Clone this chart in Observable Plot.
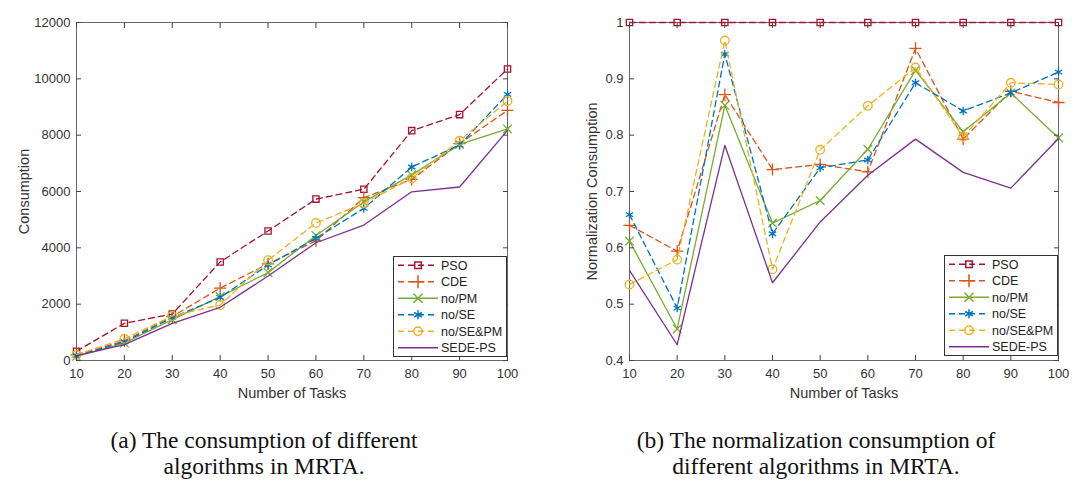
<!DOCTYPE html>
<html><head><meta charset="utf-8">
<script src="https://cdn.jsdelivr.net/npm/d3@7"></script>
<script src="https://cdn.jsdelivr.net/npm/@observablehq/plot@0.6"></script>
<style>
body{margin:0;background:#fff;}
#wrap{position:relative;width:1080px;height:487px;overflow:hidden;}
.panel{position:absolute;top:0;}
.cap{position:absolute;top:427px;text-align:center;font-family:"Liberation Serif","Times New Roman",serif;font-size:23.5px;line-height:26px;color:#111;white-space:nowrap;}
.legend{position:absolute;background:#fff;border:1px solid #333;box-sizing:border-box;}
</style></head><body>
<div id="wrap"></div>
<script>
// ---- data ----
const tasks = [10, 20, 30, 40, 50, 60, 70, 80, 90, 100];
const seriesNames = ["PSO", "CDE", "no/PM", "no/SE", "no/SE&PM", "SEDE-PS"];
const seriesColors = ["#A2142F", "#D95319", "#77AC30", "#0072BD", "#EDB120", "#7E2F8E"];
const seriesDash = ["6,4", "6,4", null, "6,4", "6,4", null];
const seriesSymbols = ["square2", "plus", "times", "asterisk", "circle", null];

// (a) consumption
const consPSO    = [330, 1320, 1650, 3500, 4600, 5730, 6080, 8160, 8730, 10350];
const consCDE    = [200, 700, 1560, 2570, 3430, 4250, 5780, 6430, 7700, 8880];
const consNoPM   = [150, 620, 1450, 2270, 3120, 4440, 5630, 6590, 7670, 8220];
const consNoSE   = [170, 660, 1520, 2240, 3390, 4340, 5400, 6870, 7650, 9450];
const consNoSEPM = [200, 770, 1580, 1970, 3560, 4880, 5580, 6470, 7800, 9210];
const consSEDE   = [170, 566, 1320, 1890, 3000, 4180, 4810, 5990, 6160, 8170];

// (b) normalization consumption
const normPSO    = [1, 1, 1, 1, 1, 1, 1, 1, 1, 1];
const normCDE    = [0.640, 0.594, 0.872, 0.739, 0.748, 0.735, 0.954, 0.793, 0.878, 0.858];
const normNoPM   = [0.612, 0.456, 0.853, 0.644, 0.684, 0.775, 0.915, 0.806, 0.875, 0.795];
const normNoSE   = [0.659, 0.493, 0.944, 0.625, 0.742, 0.756, 0.893, 0.843, 0.875, 0.912];
const normNoSEPM = [0.535, 0.579, 0.968, 0.562, 0.774, 0.852, 0.920, 0.797, 0.893, 0.890];
const normSEDE   = [0.560, 0.428, 0.782, 0.538, 0.646, 0.729, 0.793, 0.734, 0.706, 0.794];

const xTicks = [10, 20, 30, 40, 50, 60, 70, 80, 90, 100];
const yTicksA = [0, 2000, 4000, 6000, 8000, 10000, 12000];
const yTicksB = [0.4, 0.5, 0.6, 0.7, 0.8, 0.9, 1];

const captionA = ["(a) The consumption of different", "algorithms in MRTA."];
const captionB = ["(b) The normalization consumption of", "different algorithms in MRTA."];

function toRows(arrays) {
  const rows = [];
  arrays.forEach((arr, i) => arr.forEach((v, j) => rows.push({task: tasks[j], value: v, series: seriesNames[i]})));
  return rows;
}

const rowsA = toRows([consPSO, consCDE, consNoPM, consNoSE, consNoSEPM, consSEDE]);
const rowsB = toRows([normPSO, normCDE, normNoPM, normNoSE, normNoSEPM, normSEDE]);

const axisColor = "#444";
const textColor = "#333";

function makePlot(rows, yDomain, yTicks, yLabel, ml, mr, labelOffsetY) {
  const marks = [Plot.frame({stroke: "#666", strokeWidth: 1})];
  seriesNames.forEach((name, i) => {
    const d = rows.filter(r => r.series === name);
    marks.push(Plot.line(d, {x: "task", y: "value", stroke: seriesColors[i], strokeWidth: 1.3,
      strokeDasharray: seriesDash[i] || undefined}));
    if (seriesSymbols[i]) {
      marks.push(Plot.dot(d, {x: "task", y: "value", symbol: seriesSymbols[i], stroke: seriesColors[i],
        fill: "none", r: seriesSymbols[i] === "circle" ? 4.3 : 4.0, strokeWidth: 1.3}));
    }
  });
  marks.push(
    Plot.axisX({ticks: xTicks, anchor: "bottom", tickSize: -5, tickPadding: 13, stroke: axisColor, fill: textColor,
      fontSize: 13, tickFormat: d => String(d), label: null}),
    Plot.axisX({ticks: xTicks, anchor: "top", tickSize: -5, stroke: axisColor, tickFormat: () => "", label: null}),
    Plot.axisY({ticks: yTicks, anchor: "left", tickSize: -5, tickPadding: 11, stroke: axisColor, fill: textColor,
      fontSize: 13, tickFormat: d => String(d), label: null}),
    Plot.axisY({ticks: yTicks, anchor: "right", tickSize: -5, stroke: axisColor, tickFormat: () => "", label: null}),
    Plot.axisX({ticks: xTicks, anchor: "bottom", tickSize: 0, tickFormat: () => "", fill: textColor, fontSize: 14.5,
      label: "Number of Tasks", labelAnchor: "center", labelOffset: 37, labelArrow: "none"}),
    Plot.axisY({ticks: yTicks, anchor: "left", tickSize: 0, tickFormat: () => "", fill: textColor, fontSize: 14.5,
      label: yLabel, labelAnchor: "center", labelOffset: labelOffsetY, labelArrow: "none"})
  );
  return Plot.plot({
    width: 540, height: 400,
    marginLeft: ml, marginRight: mr, marginTop: 22, marginBottom: 40,
    style: {fontFamily: "'Liberation Sans', Arial, sans-serif", fontSize: "13px", color: textColor, background: "#fff"},
    x: {domain: [10, 100]},
    y: {domain: yDomain},
    marks
  });
}

function makeLegend(left, top, w, h) {
  const div = document.createElement("div");
  div.className = "legend";
  div.style.left = left + "px"; div.style.top = top + "px";
  div.style.width = w + "px"; div.style.height = h + "px";
  const svg = d3.create("svg").attr("width", w - 2).attr("height", h - 2);
  const rowH = (h - 2) / seriesNames.length;
  const symMap = {square2: d3.symbolSquare2, plus: d3.symbolPlus, times: d3.symbolTimes, asterisk: d3.symbolAsterisk, circle: d3.symbolCircle};
  seriesNames.forEach((name, i) => {
    const cy = rowH * (i + 0.5);
    const g = svg.append("g").attr("transform", `translate(0,${cy})`);
    g.append("line").attr("x1", 4).attr("x2", 44).attr("y1", 0).attr("y2", 0)
      .attr("stroke", seriesColors[i]).attr("stroke-width", 1.3)
      .attr("stroke-dasharray", seriesDash[i] || null);
    if (seriesSymbols[i]) {
      const size = Math.PI * 4.2 * 4.2;
      g.append("path").attr("transform", "translate(24,0)")
        .attr("d", d3.symbol(symMap[seriesSymbols[i]], size)())
        .attr("fill", "none").attr("stroke", seriesColors[i]).attr("stroke-width", 1.5);
    }
    g.append("text").attr("x", 47).attr("y", 0).attr("dy", "0.35em")
      .attr("font-family", "'Liberation Sans', Arial, sans-serif").attr("font-size", 12.5)
      .attr("fill", "#222").text(name);
  });
  div.appendChild(svg.node());
  return div;
}

const wrap = document.getElementById("wrap");
const pA = makePlot(rowsA, [0, 12000], yTicksA, "Consumption", 76, 33, 58);
pA.classList.add("panel"); pA.style.left = "0px";
const pB = makePlot(rowsB, [0.4, 1], yTicksB, "Normalization Consumption", 89, 22, 43);
pB.classList.add("panel"); pB.style.left = "540px";
wrap.appendChild(pA); wrap.appendChild(pB);
wrap.appendChild(makeLegend(393, 256, 114, 101));
wrap.appendChild(makeLegend(944, 255, 114, 101));

function makeCaption(lines, center) {
  const c = document.createElement("div");
  c.className = "cap";
  c.style.left = (center - 270) + "px"; c.style.width = "540px";
  c.innerHTML = lines.map(l => l.replace(/&/g, "&amp;")).join("<br>");
  return c;
}
wrap.appendChild(makeCaption(captionA, 264));
wrap.appendChild(makeCaption(captionB, 816));
</script>
</body></html>
